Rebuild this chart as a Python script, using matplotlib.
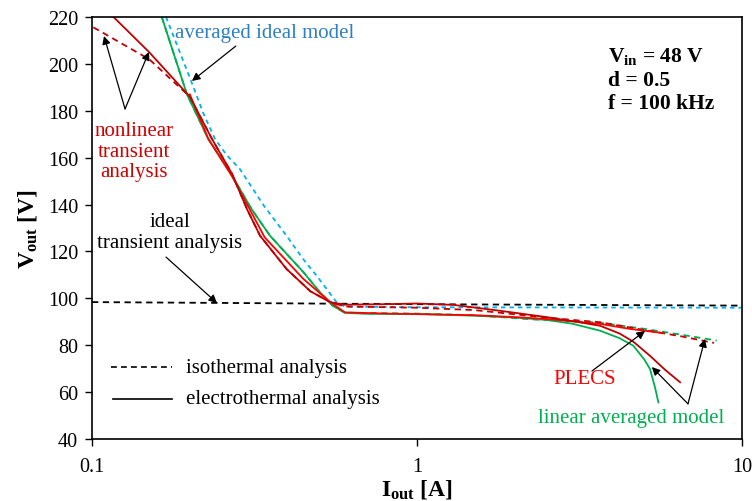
import matplotlib
matplotlib.use("Agg")
import matplotlib.pyplot as plt
from matplotlib.ticker import FixedLocator, NullLocator, FixedFormatter

plt.rcParams['font.family'] = ['Liberation Serif', 'DejaVu Serif']
plt.rcParams['mathtext.fontset'] = 'custom'
plt.rcParams['mathtext.rm'] = 'Liberation Serif'
plt.rcParams['mathtext.it'] = 'Liberation Serif:italic'
plt.rcParams['mathtext.bf'] = 'Liberation Serif:bold'

# ideal transient analysis (isothermal)
ideal_i = [0.1, 1, 10]
ideal_v = [98.4, 97.5, 96.9]

# averaged ideal model
avg_i = [0.169, 0.2026, 0.22, 0.239, 0.26, 0.285, 0.34, 0.397, 0.445, 0.491, 0.566, 0.6, 1, 10]
avg_v = [220, 192.1, 179, 168, 161, 155.2, 139, 126.7, 117, 109.7, 98.3, 96.5, 96.2, 96.0]

# nonlinear transient analysis, electrothermal
nl_et_i = [0.1165, 0.15, 0.2, 0.234, 0.27, 0.3, 0.329, 0.397, 0.47, 0.54, 0.6, 0.8, 1,
           1.3, 1.8, 2.5, 3.0, 3.66, 4.2, 4.63, 5.21, 5.8, 6.45]
nl_et_v = [220, 205, 186, 168, 153, 138, 126.7, 112.5, 103, 98.4, 97.3, 97.5, 97.8,
           97.2, 94.7, 92, 90.3, 88.3, 85, 81.5, 75.5, 69.5, 64.2]

# nonlinear transient analysis, isothermal
nl_iso_i = [0.101, 0.15, 0.2, 0.234, 0.27, 0.3, 0.329, 0.397, 0.47, 0.54, 0.6, 1,
            1.5, 2, 2.5, 3, 3.66, 5, 6.5, 8.2]
nl_iso_v = [215.6, 202, 186, 168, 153, 138, 126.7, 112.5, 103, 98.4, 96.5, 96,
            95, 93.2, 91.8, 90.8, 89.8, 86.5, 83.8, 81]

# PLECS
plecs_i = [0.2, 0.228, 0.27, 0.34, 0.447, 0.54, 0.6, 0.8, 1, 1.5, 2, 2.5, 3, 3.66, 4.5, 5.71]
plecs_v = [187, 168, 152, 126, 108.3, 98.5, 94, 93.5, 93.3, 92.8, 92, 91.2, 90.2, 89.1, 87, 85.2]

# linear averaged model, electrothermal
lin_et_i = [0.164, 0.196, 0.228, 0.268, 0.31, 0.353, 0.447, 0.5, 0.55, 0.6, 0.7, 1, 1.5,
            2, 2.5, 3, 3.66, 4.2, 4.63, 5.0, 5.21, 5.4, 5.53]
lin_et_v = [220, 187, 168, 153, 138, 126.7, 111.2, 103, 96.9, 93.8, 93.4, 93.3, 92.6,
            91.8, 90.8, 89.2, 86.2, 83, 79.8, 74, 69.9, 62, 55.6]

# linear averaged model, isothermal
lin_iso_i = [0.164, 0.196, 0.228, 0.268, 0.31, 0.353, 0.447, 0.5, 0.55, 0.6, 1, 1.5,
             2.27, 3, 3.66, 5, 6.5, 8.36]
lin_iso_v = [220, 187, 168, 153, 138, 126.7, 111.2, 103, 96.9, 93.9, 93.5, 92.8,
             91, 90.3, 89.6, 87, 84.5, 82]

x_ticks = [0.1, 1, 10]
x_tick_labels = ['0.1', '1', '10']
y_ticks = list(range(40, 221, 20))

dark_red = '#C00000'
red = '#FF0000'
green = '#00B050'
blue = '#00B0F0'
dash = (0, (3.5, 2.5))
lw = 1.3

fig = plt.figure(figsize=(7.52, 5.02), dpi=100)
ax = fig.add_axes([0.1223, 0.1235, 0.8644, 0.8406])

ax.plot(ideal_i, ideal_v, color='black', lw=lw, ls=dash)
ax.plot(avg_i, avg_v, color=blue, lw=lw, ls=(0, (2.5, 2.2)))
ax.plot(lin_iso_i, lin_iso_v, color=green, lw=lw, ls=dash)
ax.plot(nl_iso_i, nl_iso_v, color=dark_red, lw=lw, ls=dash)
ax.plot(lin_et_i, lin_et_v, color=green, lw=lw)
ax.plot(plecs_i, plecs_v, color=red, lw=lw)
ax.plot(nl_et_i, nl_et_v, color=dark_red, lw=lw)

ax.set_xscale('log')
ax.set_xlim(0.1, 10)
ax.set_ylim(40, 220)
ax.xaxis.set_major_locator(FixedLocator(x_ticks))
ax.xaxis.set_major_formatter(FixedFormatter(x_tick_labels))
ax.xaxis.set_minor_locator(NullLocator())
ax.set_yticks(y_ticks)
ax.tick_params(direction='out', length=5, width=1, labelsize=14.5)
ax.tick_params(axis='x', pad=8)
ax.tick_params(axis='y', pad=5)
for s in ax.spines.values():
    s.set_linewidth(1.2)

ax.set_xlabel(r'$\mathbf{I_{out}}$ [A]', fontsize=17, fontweight='bold', va='center')
ax.xaxis.set_label_coords(0.5, -0.118)
ax.set_ylabel(r'$\mathbf{V_{out}}$ [V]', fontsize=17, fontweight='bold', labelpad=6)

fs = 15
arrow = dict(arrowstyle='-|>', color='black', lw=0.9, shrinkA=0, shrinkB=0,
             mutation_scale=12)

ax.text(0.3405, 213.6, 'averaged ideal model', color='#2E7FC4', fontsize=fs,
        ha='center', va='center')
ax.annotate('', xy=(0.203, 192.7), xytext=(0.277, 207.6), arrowprops=arrow)

ax.text(0.1346, 162.8, 'nonlinear\ntransient\nanalysis', color='#D00000', fontsize=fs,
        ha='center', va='center', linespacing=1.13)
ax.annotate('', xy=(0.1089, 211.9), xytext=(0.1264, 180.8), arrowprops=arrow)
ax.annotate('', xy=(0.1497, 205.1), xytext=(0.1264, 180.8), arrowprops=arrow)

ax.text(0.1738, 128.3, 'ideal\ntransient analysis', color='black', fontsize=fs,
        ha='center', va='center', linespacing=1.13)
ax.annotate('', xy=(0.2425, 98.0), xytext=(0.169, 117.6), arrowprops=arrow)

ax.text(3.29, 65.6, 'PLECS', color=red, fontsize=fs, ha='center', va='center')
ax.annotate('', xy=(5.03, 86.1), xytext=(3.455, 69.0), arrowprops=arrow)

ax.text(4.555, 49.0, 'linear averaged model', color=green, fontsize=fs,
        ha='center', va='center')
ax.annotate('', xy=(5.28, 70.7), xytext=(6.82, 55.0), arrowprops=arrow)
ax.annotate('', xy=(7.69, 82.7), xytext=(6.82, 55.0), arrowprops=arrow)

# legend drawn by hand
ax.plot([0.0297, 0.1226], [0.1706, 0.1706], transform=ax.transAxes, color='black',
        lw=1.2, ls=dash)
ax.plot([0.0323, 0.1226], [0.0948, 0.0948], transform=ax.transAxes, color='black', lw=1.2)
ax.text(0.1446, 0.1706, 'isothermal analysis', transform=ax.transAxes, fontsize=fs,
        va='center')
ax.text(0.1446, 0.0948, 'electrothermal analysis', transform=ax.transAxes, fontsize=fs,
        va='center')

fs_b = 15.5
ax.text(0.794, 0.908, r'$\mathbf{V_{in}}$ = 48 V', transform=ax.transAxes, fontsize=fs_b,
        fontweight='bold', va='center')
ax.text(0.794, 0.851, 'd = 0.5', transform=ax.transAxes, fontsize=fs_b,
        fontweight='bold', va='center')
ax.text(0.794, 0.796, 'f = 100 kHz', transform=ax.transAxes, fontsize=fs_b,
        fontweight='bold', va='center')

fig.savefig('out.png', dpi=100)
